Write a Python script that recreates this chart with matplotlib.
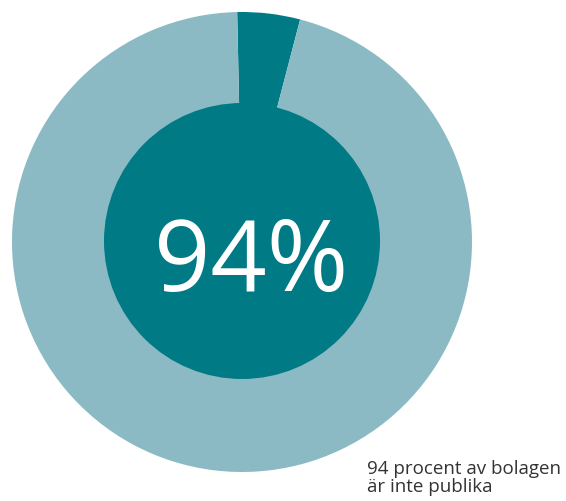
import matplotlib.pyplot as plt
from matplotlib.patches import Circle

# share of companies (as drawn in the ring)
labels = ['publika', 'inte publika']
values = [4.4, 95.6]
colors = ['#007a85', '#8bbac4']
big_text = '94%'
caption = '94 procent av bolagen\när inte publika'

fig = plt.figure(figsize=(5.66, 5.01), dpi=100)
ax = fig.add_axes([0, 0, 1, 1])

# y axis is inverted below, so angles are mirrored: go counterclockwise from -91.2
ax.pie(values, colors=colors, startangle=-91.2, counterclock=True,
       radius=230, center=(242, 242), frame=True,
       wedgeprops=dict(linewidth=0))
ax.add_patch(Circle((242, 241), 138, color='#007a85', lw=0, zorder=3))

ax.text(251, 265, big_text, color='white', fontsize=71, family='Open Sans',
        fontweight='medium', ha='center', va='center', zorder=4)
ax.text(367, 478, caption, color='#333333', fontsize=13.5, family='Open Sans',
        ha='left', va='center', linespacing=1.05)

ax.set_xlim(0, 566)
ax.set_ylim(501, 0)
ax.set_aspect('equal')
ax.axis('off')

fig.savefig('out.png', dpi=100)
